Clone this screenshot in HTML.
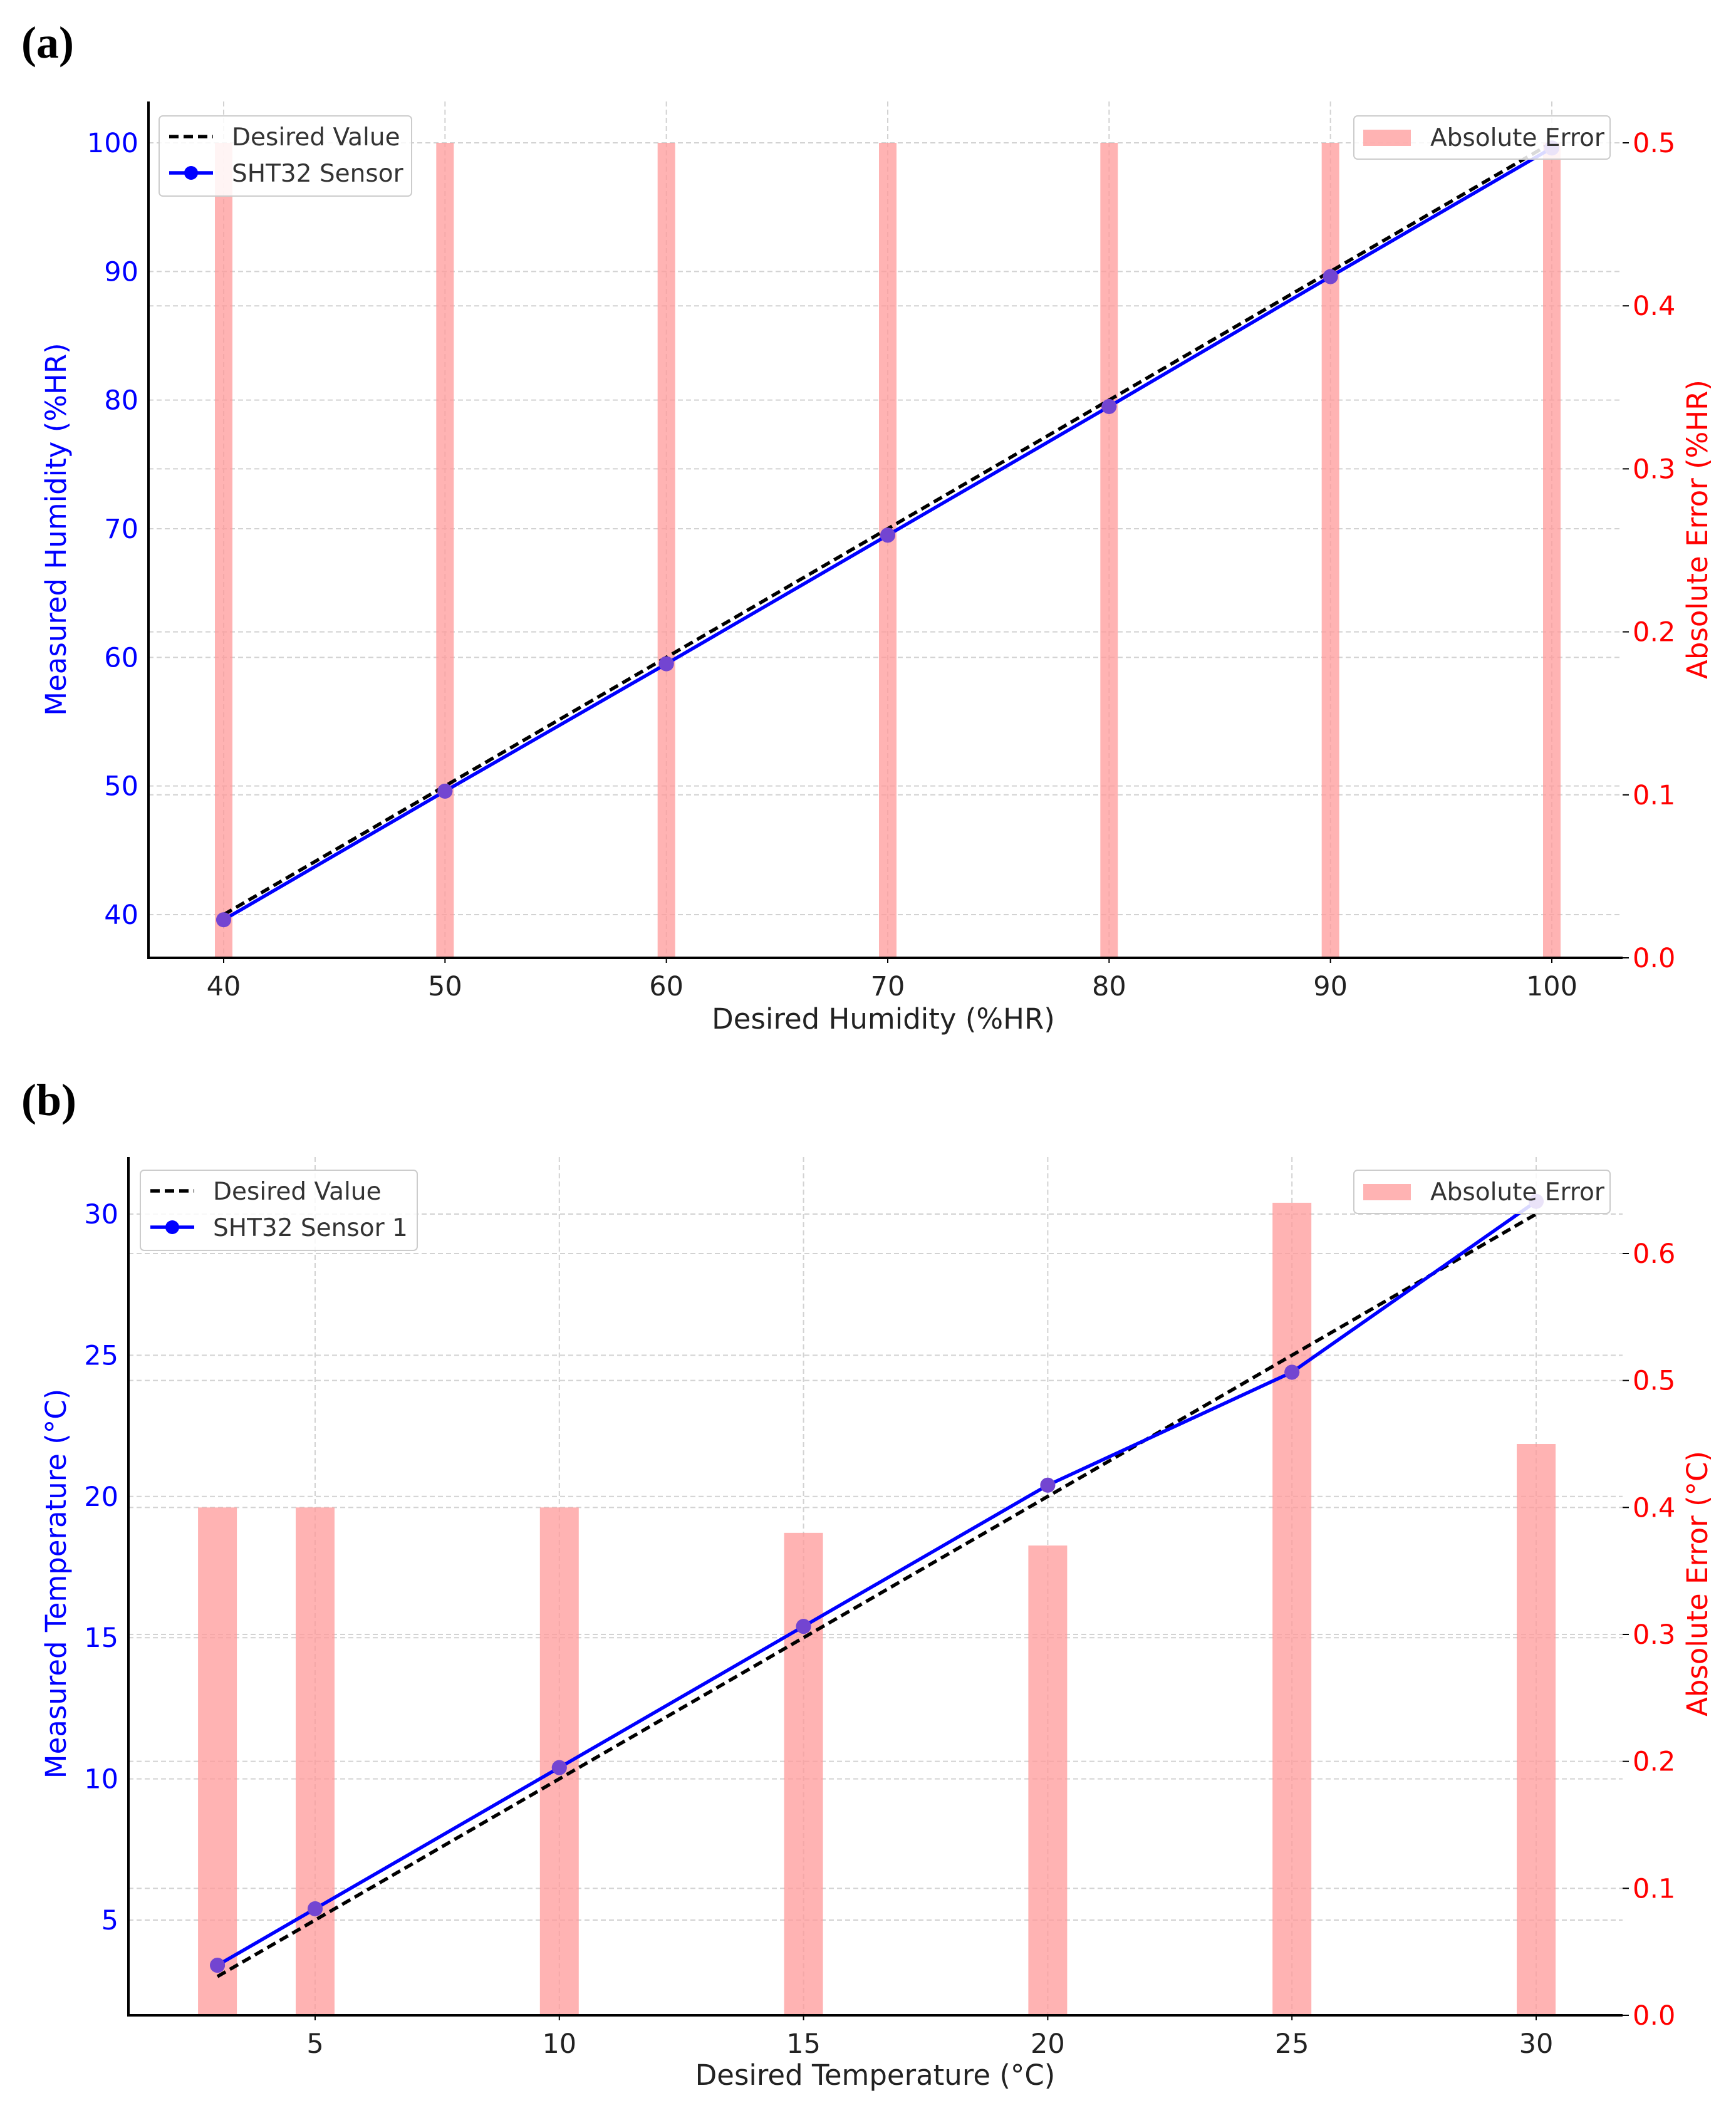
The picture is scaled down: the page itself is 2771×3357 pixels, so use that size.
<!DOCTYPE html>
<html><head><meta charset="utf-8">
<style>
html,body{margin:0;padding:0;background:#fff;}
svg{display:block;}
text{font-family:"DejaVu Sans","Liberation Sans",sans-serif;}
</style></head>
<body>
<svg id="root" width="2771" height="3357" viewBox="0 0 2771 3357" xmlns="http://www.w3.org/2000/svg">
<text x="34" y="92" font-weight="bold" font-size="72" fill="#000" style="font-family:'Liberation Serif',serif">(a)</text>
<text x="34" y="1780" font-weight="bold" font-size="72" fill="#000" style="font-family:'Liberation Serif',serif">(b)</text>
</svg>
<script>
// Panel A data
const aCategories = [40, 50, 60, 70, 80, 90, 100];
const aMeasured = [39.6, 49.6, 59.5, 69.5, 79.5, 89.6, 99.6];
const aError = [0.5, 0.5, 0.5, 0.5, 0.5, 0.5, 0.5];
const aXTicks = [40, 50, 60, 70, 80, 90, 100];
const aYTicks = [40, 50, 60, 70, 80, 90, 100];
const aRTicks = [0.0, 0.1, 0.2, 0.3, 0.4, 0.5];
// Panel B data
const bCategories = [3, 5, 10, 15, 20, 25, 30];
const bMeasured = [3.4, 5.4, 10.4, 15.4, 20.4, 24.4, 30.45];
const bError = [0.40, 0.40, 0.40, 0.38, 0.37, 0.64, 0.45];
const bXTicks = [5, 10, 15, 20, 25, 30];
const bYTicks = [5, 10, 15, 20, 25, 30];
const bRTicks = [0.0, 0.1, 0.2, 0.3, 0.4, 0.5, 0.6];

const NS = "http://www.w3.org/2000/svg";
const root = document.getElementById('root');
function mk(tag, attrs, parent, txt){
  const e = document.createElementNS(NS, tag);
  for (const k in attrs) e.setAttribute(k, attrs[k]);
  if (txt !== undefined) e.textContent = txt;
  (parent || root).appendChild(e);
  return e;
}
function lin(d0,d1,r0,r1){return v=>r0+(v-d0)*(r1-r0)/(d1-d0);}

function panel(cfg){
  const g = mk('g', {});
  
  
  const X = lin(cfg.xd[0], cfg.xd[1], cfg.xr[0], cfg.xr[1]);
  const Y = lin(cfg.yd[0], cfg.yd[1], cfg.yr[0], cfg.yr[1]);
  const R = lin(0, cfg.rd1, cfg.bottom, cfg.rr1);
  cfg.xt.forEach(t=>{
    const l = mk('line',{x1:X(t),x2:X(t),y1:cfg.top,y2:cfg.bottom,stroke:'#d2d2d2','stroke-width':2,'stroke-dasharray':'8,5'},g);
    
    
  });
  cfg.yt.forEach(t=>{
    const l = mk('line',{x1:cfg.left,x2:cfg.right,y1:Y(t),y2:Y(t),stroke:'#d2d2d2','stroke-width':2,'stroke-dasharray':'8,5'},g);
    
    
  });
  cfg.rt.forEach(t=>{
    if (t===0) return;
    const l = mk('line',{x1:cfg.left,x2:cfg.right,y1:R(t),y2:R(t),stroke:'#d2d2d2','stroke-width':2,'stroke-dasharray':'8,5'},g);
    
    
  });
  const bw = cfg.barW;
  cfg.cats.forEach((c,i)=>{
    const b = mk('rect',{x:X(c)-bw/2,y:R(cfg.err[i]),width:bw,height:cfg.bottom-R(cfg.err[i]),fill:'#ff9999','fill-opacity':0.75},g);
    
    
  });
  const dpts = cfg.cats.map(c=>X(c)+','+Y(c)).join(' ');
  const dl = mk('polyline',{points:dpts,fill:'none',stroke:'#000','stroke-width':5.5,'stroke-dasharray':'15,8'},g);
  
  
  const mpts = cfg.cats.map((c,i)=>X(c)+','+Y(cfg.meas[i])).join(' ');
  const ml = mk('polyline',{points:mpts,fill:'none',stroke:'#0000ff','stroke-width':5.5},g);
  
  
  cfg.cats.forEach((c,i)=>{
    const p = mk('circle',{cx:X(c),cy:Y(cfg.meas[i]),r:12,fill:'#0000ff'},g);
    
    
    const o = mk('circle',{cx:X(c),cy:Y(cfg.meas[i]),r:12,fill:'#ff9999','fill-opacity':0.45},g);
    
    
  });
  const ax = mk('path',{d:`M${cfg.left},${cfg.top} V${cfg.bottom} H${cfg.right}`,fill:'none',stroke:'#000','stroke-width':4},g);
  
  
  cfg.xt.forEach(t=>{
    mk('line',{x1:X(t),x2:X(t),y1:cfg.bottom,y2:cfg.bottom+8,stroke:'#000','stroke-width':2},g);
    const tx = mk('text',{x:X(t),y:cfg.bottom+60,'text-anchor':'middle','font-size':43,fill:'#222'},g,String(t));
    
    
  });
  cfg.yt.forEach(t=>{
    const tx = mk('text',{x:cfg.left-16,y:Y(t)+15,'text-anchor':'end','font-size':43,fill:'#0000ff'},g,String(t));
    
    
  });
  cfg.rt.forEach(t=>{
    mk('line',{x1:cfg.right,x2:cfg.right+10,y1:R(t),y2:R(t),stroke:'#000','stroke-width':2},g);
    const tx = mk('text',{x:cfg.right+16,y:R(t)+15,'font-size':43,fill:'#ff0000'},g,t.toFixed(1));
    
    
  });
  const xt = mk('text',{x:cfg.xlab[0],y:cfg.xlab[1],'text-anchor':'middle','font-size':45,fill:'#222'},g,cfg.xtitle);
  
  
  const yt = mk('text',{x:0,y:0,'text-anchor':'middle','font-size':45,fill:'#0000ff',transform:`translate(${cfg.ylabX},${cfg.labY}) rotate(-90)`},g,cfg.ytitle);
  
  
  const rtt = mk('text',{x:0,y:0,'text-anchor':'middle','font-size':45,fill:'#ff0000',transform:`translate(${cfg.rlabX},${cfg.labY}) rotate(-90)`},g,cfg.rtitle);
  
  
  const L = cfg.leg;
  const lg = mk('g',{},g);
  
  
  mk('rect',{x:L[0],y:L[1],width:L[2],height:128,rx:6,fill:'#fff','fill-opacity':0.85,stroke:'#ccc','stroke-width':2},lg);
  mk('line',{x1:L[0]+16,x2:L[0]+86,y1:L[1]+33,y2:L[1]+33,stroke:'#000','stroke-width':5.5,'stroke-dasharray':'15,8'},lg);
  const e1 = mk('text',{x:L[0]+116,y:L[1]+47,'font-size':39,fill:'#333'},lg,'Desired Value');
  
  
  mk('line',{x1:L[0]+16,x2:L[0]+86,y1:L[1]+91,y2:L[1]+91,stroke:'#0000ff','stroke-width':5.5},lg);
  mk('circle',{cx:L[0]+51,cy:L[1]+91,r:11,fill:'#0000ff'},lg);
  const e2 = mk('text',{x:L[0]+116,y:L[1]+105,'font-size':39,fill:'#333'},lg,cfg.sensorName);
  
  
  const rg = mk('g',{},g);
  
  
  mk('rect',{x:2161,y:L[1],width:409,height:69,rx:6,fill:'#fff','fill-opacity':0.85,stroke:'#ccc','stroke-width':2},rg);
  mk('rect',{x:2176,y:L[1]+22,width:76,height:26,fill:'#ff9999','fill-opacity':0.75},rg);
  const e3 = mk('text',{x:2283,y:L[1]+48,'font-size':39,fill:'#333'},rg,'Absolute Error');
  
  
}

panel({id:'humidity', left:237,right:2590,top:162,bottom:1529,
  xd:[40,100],xr:[357,2477], yd:[40,100],yr:[1460,228], rd1:0.5,rr1:228,
  cats:aCategories,meas:aMeasured,err:aError,xt:aXTicks,yt:aYTicks,rt:aRTicks,barW:28,
  xtitle:'Desired Humidity (%HR)',ytitle:'Measured Humidity (%HR)',rtitle:'Absolute Error (%HR)',
  xlab:[1410,1642], ylabX:105, rlabX:2725, labY:845, leg:[254,185,403], sensorName:'SHT32 Sensor'});
panel({id:'temperature', left:205,right:2590,top:1847,bottom:3217,
  xd:[5,30],xr:[503,2452], yd:[5,30],yr:[3065,1938], rd1:0.6,rr1:2001,
  cats:bCategories,meas:bMeasured,err:bError,xt:bXTicks,yt:bYTicks,rt:bRTicks,barW:62,
  xtitle:'Desired Temperature (°C)',ytitle:'Measured Temperature (°C)',rtitle:'Absolute Error (°C)',
  xlab:[1397,3328], ylabX:105, rlabX:2725, labY:2528, leg:[224,1868,442], sensorName:'SHT32 Sensor 1'});
</script>
</body></html>
